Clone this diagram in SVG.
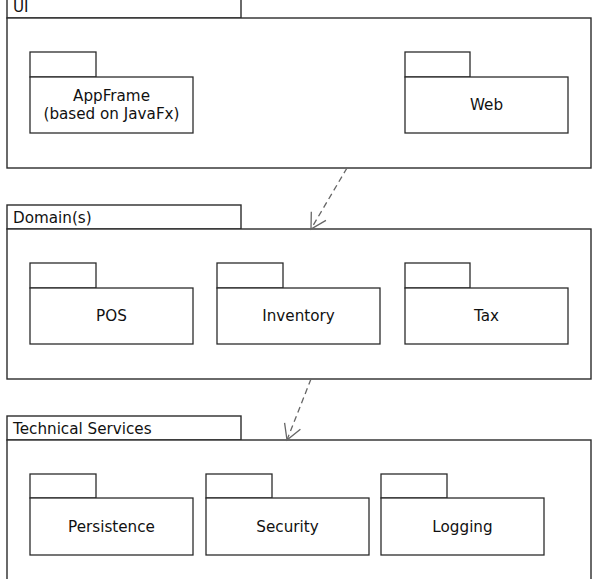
<svg xmlns="http://www.w3.org/2000/svg" width="593" height="579" viewBox="0 0 593 579">
<style>
.frame{fill:#fff;stroke:#2b2b2b;stroke-width:1.4}
.pkg{fill:#fff;stroke:#2b2b2b;stroke-width:1.3}
.t{font-family:"DejaVu Sans",sans-serif;font-size:15.2px;fill:#111}
.c{text-anchor:middle}
.dep{fill:none;stroke:#666;stroke-width:1.3;stroke-dasharray:6 4}
</style>
<defs>
<marker id="open" markerUnits="userSpaceOnUse" markerWidth="20" markerHeight="20" refX="0" refY="0" orient="auto" viewBox="-16 -10 20 20" overflow="visible">
<path d="M -15 -8.5 L 0 0 L -15 8.5" fill="none" stroke="#666" stroke-width="1.3"/>
</marker>
</defs>
<rect width="593" height="579" fill="#fff"/>
<g id="ui">
<rect class="frame" x="7" y="-6" width="234" height="24"/>
<rect class="frame" x="7" y="18" width="584" height="150"/>
<text class="t" x="13" y="12">UI</text>
</g>
<g id="appframe">
<rect class="pkg" x="30" y="52" width="66" height="25"/>
<rect class="pkg" x="30" y="77" width="163" height="56"/>
<text class="t c" x="111.5" y="101">AppFrame</text>
<text class="t c" x="111.5" y="119">(based on JavaFx)</text>
</g>
<g id="web">
<rect class="pkg" x="405" y="52" width="65" height="25"/>
<rect class="pkg" x="405" y="77" width="163" height="56"/>
<text class="t c" x="486.5" y="110">Web</text>
</g>
<g id="domains">
<rect class="frame" x="7" y="205" width="234" height="24"/>
<rect class="frame" x="7" y="229" width="584" height="150"/>
<text class="t" x="13" y="223">Domain(s)</text>
</g>
<g id="pos">
<rect class="pkg" x="30" y="263" width="66" height="25"/>
<rect class="pkg" x="30" y="288" width="163" height="56"/>
<text class="t c" x="111.5" y="321">POS</text>
</g>
<g id="inventory">
<rect class="pkg" x="217" y="263" width="66" height="25"/>
<rect class="pkg" x="217" y="288" width="163" height="56"/>
<text class="t c" x="298.5" y="321">Inventory</text>
</g>
<g id="tax">
<rect class="pkg" x="405" y="263" width="65" height="25"/>
<rect class="pkg" x="405" y="288" width="163" height="56"/>
<text class="t c" x="486.5" y="321">Tax</text>
</g>
<g id="technical-services">
<rect class="frame" x="7" y="416" width="234" height="24"/>
<rect class="frame" x="7" y="440" width="584" height="150"/>
<text class="t" x="13" y="434">Technical Services</text>
</g>
<g id="persistence">
<rect class="pkg" x="30" y="474" width="66" height="24"/>
<rect class="pkg" x="30" y="498" width="163" height="57"/>
<text class="t c" x="111.5" y="532">Persistence</text>
</g>
<g id="security">
<rect class="pkg" x="206" y="474" width="66" height="24"/>
<rect class="pkg" x="206" y="498" width="163" height="57"/>
<text class="t c" x="287.5" y="532">Security</text>
</g>
<g id="logging">
<rect class="pkg" x="381" y="474" width="66" height="24"/>
<rect class="pkg" x="381" y="498" width="163" height="57"/>
<text class="t c" x="462.5" y="532">Logging</text>
</g>
<g id="connectors">
<line class="dep" x1="347" y1="168" x2="311" y2="229" marker-end="url(#open)"/>
<line class="dep" x1="311" y1="379" x2="287" y2="440" marker-end="url(#open)"/>
</g>
</svg>
